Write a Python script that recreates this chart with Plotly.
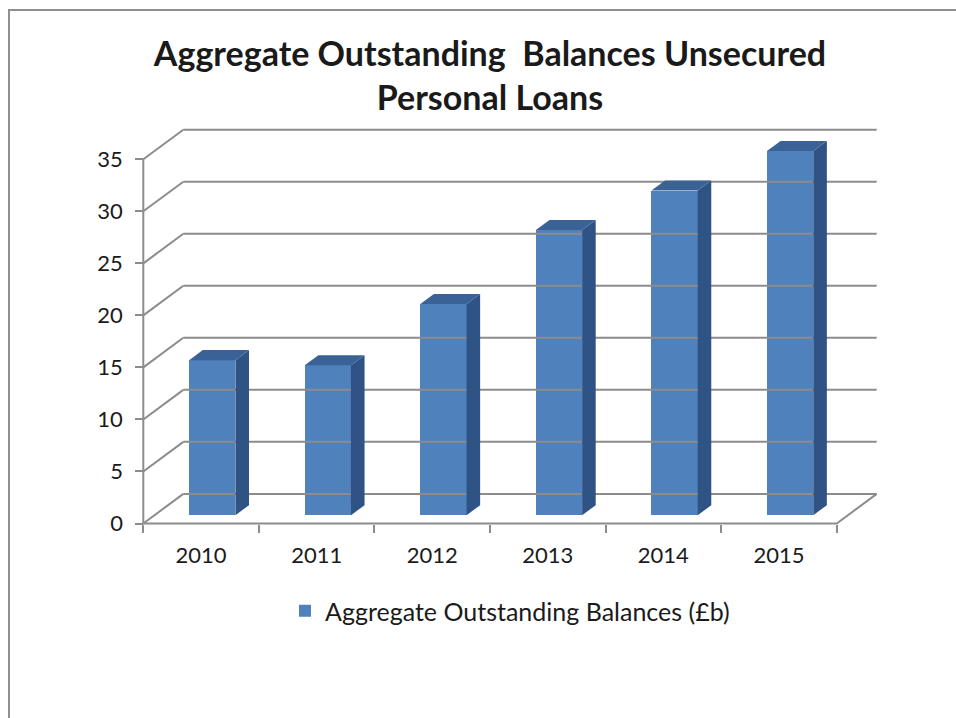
import plotly.graph_objects as go

# ---- data -------------------------------------------------------------
years = ["2010", "2011", "2012", "2013", "2014", "2015"]
balances = [14.9, 14.4, 20.3, 27.4, 31.2, 35.0]
value_ticks = [0, 5, 10, 15, 20, 25, 30, 35]
series_name = "Aggregate Outstanding Balances (£b)"
chart_title = "Aggregate Outstanding  Balances Unsecured<br>Personal Loans"

# ---- page / projection geometry ----------------------------------------
W, H = 956, 718
PL, PR, PT, PB = 125, 890, 120, 540          # plot area edges (px)
X0_PX, CAT_PX = 143.3, 115.57                # front-left corner, px per category
Y0_PX, UNIT_PX = 523.5, 10.406               # front floor, px per value unit
DEPTH_DX_PX, DEPTH_DY_PX = 40.0, 29.6        # oblique depth offset of the back wall

DX = DEPTH_DX_PX / CAT_PX                    # depth offset in data units
DY = DEPTH_DY_PX / UNIT_PX
N = len(years)
VMAX = value_ticks[-1]

BAR_D0, BAR_DD, BAR_HALF = 0.28, 0.34, 0.20  # bar depth position / thickness / half width

x_range = [(PL - X0_PX) / CAT_PX, (PR - X0_PX) / CAT_PX]
y_range = [(Y0_PX - PB) / UNIT_PX, (Y0_PX - PT) / UNIT_PX]

GRID = "#8c8c8c"
FRONT = "#4F81BD"
SIDE = "#2F5384"
TOP = "#3A6297"
FONT = "Lato"
TEXT = "#1a1a1a"
TICK_SIZE = 22

fig = go.Figure()


def seg_trace(xs, ys):
    return go.Scatter(x=xs, y=ys, mode="lines", line=dict(color=GRID, width=2),
                      hoverinfo="skip", showlegend=False)


# back wall gridlines, side wall diagonals, floor outline
gx, gy = [], []
for v in value_ticks:
    gx += [DX, N + DX, None]
    gy += [v + DY, v + DY, None]
    gx += [0, DX, None]
    gy += [v, v + DY, None]
gx += [0, N, N + DX, None]
gy += [0, 0, DY, None]
# front vertical axis line
gx += [0, 0, None]
gy += [0, VMAX, None]
fig.add_trace(seg_trace(gx, gy))

# columns: front face as bars, side and top faces as filled polygons
base = BAR_D0 * DY
shift = BAR_D0 * DX
centers = [i + 0.5 + shift for i in range(N)]
fig.add_trace(go.Bar(
    x=centers, y=balances, base=base, width=2 * BAR_HALF,
    marker=dict(color=FRONT, line=dict(width=0)),
    name=series_name, showlegend=True,
    hovertext=years, hoverinfo="text+y",
))

ddx, ddy = BAR_DD * DX, BAR_DD * DY
for c, v in zip(centers, balances):
    xl, xr = c - BAR_HALF, c + BAR_HALF
    top = base + v
    fig.add_trace(go.Scatter(
        x=[xr, xr + ddx, xr + ddx, xr, xr],
        y=[base, base + ddy, top + ddy, top, base],
        mode="lines", fill="toself", fillcolor=SIDE, line=dict(width=0, color=SIDE),
        hoverinfo="skip", showlegend=False))
    fig.add_trace(go.Scatter(
        x=[xl, xr, xr + ddx, xl + ddx, xl],
        y=[top, top, top + ddy, top + ddy, top],
        mode="lines", fill="toself", fillcolor=TOP, line=dict(width=0, color=TOP),
        hoverinfo="skip", showlegend=False))

pw, ph = PR - PL, PB - PT


def px_to_paper_x(px):
    return (px - PL) / pw


def px_to_paper_y(py):
    return (PB - py) / ph


fig.update_layout(
    width=W, height=H,
    margin=dict(l=PL, r=W - PR, t=PT, b=H - PB, pad=0),
    paper_bgcolor="white", plot_bgcolor="rgba(0,0,0,0)",
    font=dict(family=FONT, color=TEXT, size=TICK_SIZE),
    title=dict(text=chart_title, x=490 / W, xanchor="center", xref="container",
               y=1 - 66 / H, yanchor="top", yref="container",
               font=dict(family=FONT, size=34, color=TEXT, weight="bold")),
    showlegend=True,
    legend=dict(orientation="h", x=px_to_paper_x(285), xanchor="left",
                y=px_to_paper_y(611), yanchor="middle",
                font=dict(family=FONT, size=25, color=TEXT),
                bgcolor="rgba(0,0,0,0)", itemwidth=30),
    bargap=0,
    xaxis=dict(range=x_range, anchor="free", position=px_to_paper_y(Y0_PX),
               tickvals=[i + 0.5 for i in range(N)], ticktext=years, ticks="",
               showgrid=False, zeroline=False, showline=False,
               tickfont=dict(family=FONT, size=TICK_SIZE, color=TEXT), ticklabelstandoff=16,
               minor=dict(tickvals=list(range(N + 1)), ticks="outside", ticklen=8,
                          tickcolor=GRID, tickwidth=2, showgrid=False),
               fixedrange=True),
    yaxis=dict(range=y_range, anchor="free", position=px_to_paper_x(X0_PX),
               tickvals=value_ticks, ticks="outside", ticklen=8, tickcolor=GRID, tickwidth=2,
               showgrid=False, zeroline=False, showline=False,
               tickfont=dict(family=FONT, size=TICK_SIZE, color=TEXT), ticklabelstandoff=8,
               fixedrange=True),
    shapes=[dict(type="rect", xref="paper", yref="paper",
                 x0=px_to_paper_x(9), x1=px_to_paper_x(W + 10),
                 y0=px_to_paper_y(H + 10), y1=px_to_paper_y(10),
                 line=dict(color="#8f8f8f", width=2), layer="below")],
)

fig.write_html("out.html")
